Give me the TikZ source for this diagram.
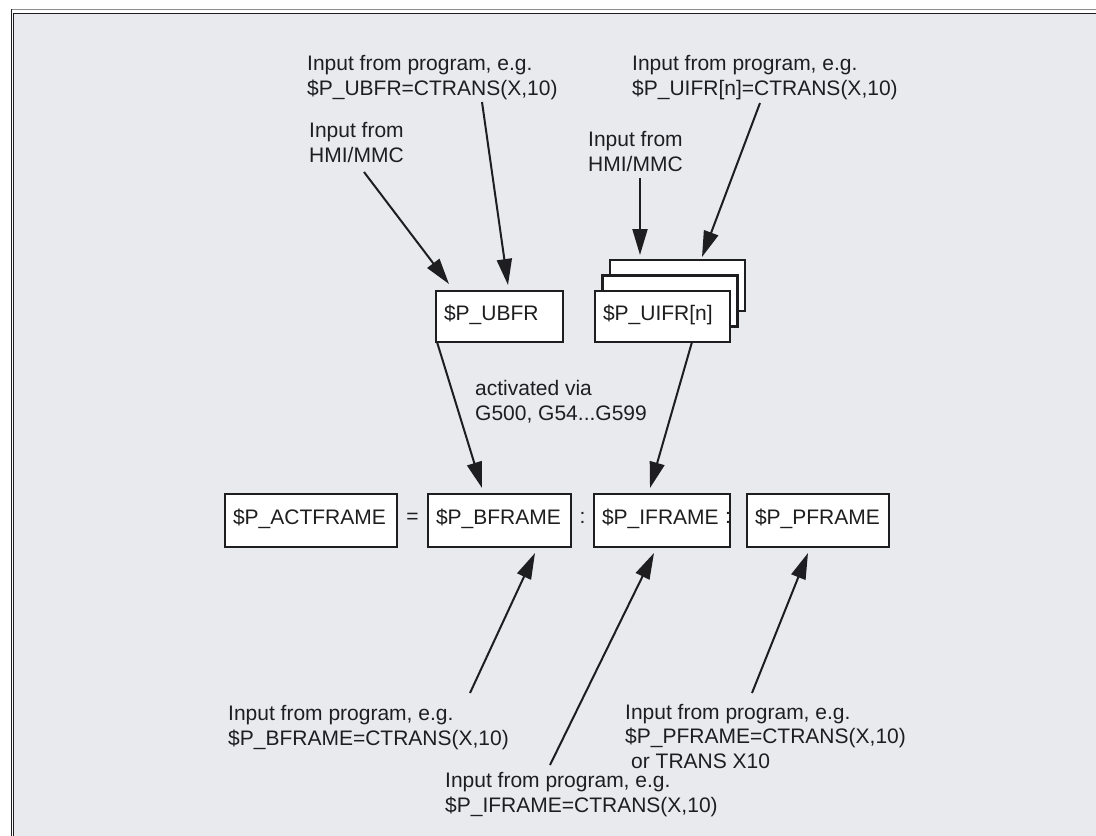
\documentclass[tikz,border=0pt]{standalone}
\usepackage{fontspec}
\setmainfont{Liberation Sans}
\usetikzlibrary{arrows.meta,calc}
\definecolor{ink}{RGB}{30,30,32}
\definecolor{panel}{RGB}{233,234,238}
\definecolor{rule}{RGB}{140,140,140}
\begin{document}
\begin{tikzpicture}[x=1pt,y=-1pt,
  every node/.style={font=\fontsize{21}{24.5}\selectfont, text=ink},
  txt/.style={anchor=base west, align=left, inner sep=0pt},
  box/.style={draw=ink, fill=white, line width=2.8pt, inner xsep=8pt, inner ysep=0pt,
    text height=15pt, text depth=8pt, align=left, minimum height=#1},
  box/.default=51pt,
  arr/.style={draw=ink, line width=2pt, -{Triangle[length=26pt,width=15pt]}},
  sep/.style={anchor=base, inner sep=0pt}
]
% page and panel
\useasboundingbox (0,0) rectangle (1096,836);
\fill[white] (0,0) rectangle (1096,836);
\fill[panel] (14,14) rectangle (1096,836);
\draw[rule, line width=1pt] (11,9.5) -- (1096,9.5);
\draw[ink, line width=1.2pt] (11.5,9) -- (11.5,836);
\draw[ink, line width=1.2pt] (13.5,836) -- (13.5,13.5) -- (1096,13.5);

% frames entered by program or HMI
\node[box, text width=111pt] (ubfr) at (499.5,316.5) {\$P\_UBFR};
\node[box, text width=119pt] (uifrC) at (677.5,285.5) {};
\node[box, text width=119pt] (uifrB) at (670,301) {};
\node[box, text width=119pt] (uifr) at (662.5,316.5) {\$P\_UIFR[n]};

% chain of the active frame
\node[box=53pt, text width=156pt] (act) at (311,520.5) {\$P\_ACTFRAME};
\node[box=53pt, text width=127pt] (bfr) at (499.5,520.5) {\$P\_BFRAME};
\node[box=53pt, text width=120pt] (ifr) at (662,520.5) {\$P\_IFRAME};
\node[box=53pt, text width=126pt] (pfr) at (818,520.5) {\$P\_PFRAME};
\node[sep] (eq) at (412.5,523) {=};
\node[sep] (c1) at (582.5,523) {:};
\node[sep] (c2) at (728,523) {:};

% input texts (anchored at the baseline of their last line)
\node[txt] (tUB) at (307,95) {Input from program, e.g.\\\$P\_UBFR=CTRANS(X,10)};
\node[txt] (tUI) at (632,95) {Input from program, e.g.\\\$P\_UIFR[n]=CTRANS(X,10)};
\node[txt] (hmiL) at (309,162) {Input from\\HMI/MMC};
\node[txt] (hmiR) at (588,171) {Input from\\HMI/MMC};
\node[txt] (actv) at (475,420) {activated via\\G500, G54...G599};
\node[txt] (tBF) at (228,745) {Input from program, e.g.\\\$P\_BFRAME=CTRANS(X,10)};
\node[txt] (tPF) at (625,768) {Input from program, e.g.\\\$P\_PFRAME=CTRANS(X,10)\\\hspace{6pt}or TRANS X10};
\node[txt] (tIF) at (445,812) {Input from program, e.g.\\\$P\_IFRAME=CTRANS(X,10)};

% connector ends
\coordinate (a1s) at (364,172);  \coordinate (a1e) at (449,284);
\coordinate (a2s) at (482,102);  \coordinate (a2e) at (508,285);
\coordinate (a3s) at (640,178);  \coordinate (a3e) at (640,255);
\coordinate (a4s) at (760,103);  \coordinate (a4e) at (702,257);
\coordinate (a5s) at (437,342);  \coordinate (a5e) at (482,488);
\coordinate (a6s) at (692,342);  \coordinate (a6e) at (650,488);
\coordinate (a7s) at (470,693);  \coordinate (a7e) at (535,553);
\coordinate (a8s) at (550,765);  \coordinate (a8e) at (654,553);
\coordinate (a9s) at (752,693);  \coordinate (a9e) at (808,553);

\draw[arr] (a1s) -- (a1e);
\draw[arr] (a2s) -- (a2e);
\draw[arr] (a3s) -- (a3e);
\draw[arr] (a4s) -- (a4e);
\draw[arr] (a5s) -- (a5e);
\draw[arr] (a6s) -- (a6e);
\draw[arr] (a7s) -- (a7e);
\draw[arr] (a8s) -- (a8e);
\draw[arr] (a9s) -- (a9e);
\end{tikzpicture}
\end{document}
